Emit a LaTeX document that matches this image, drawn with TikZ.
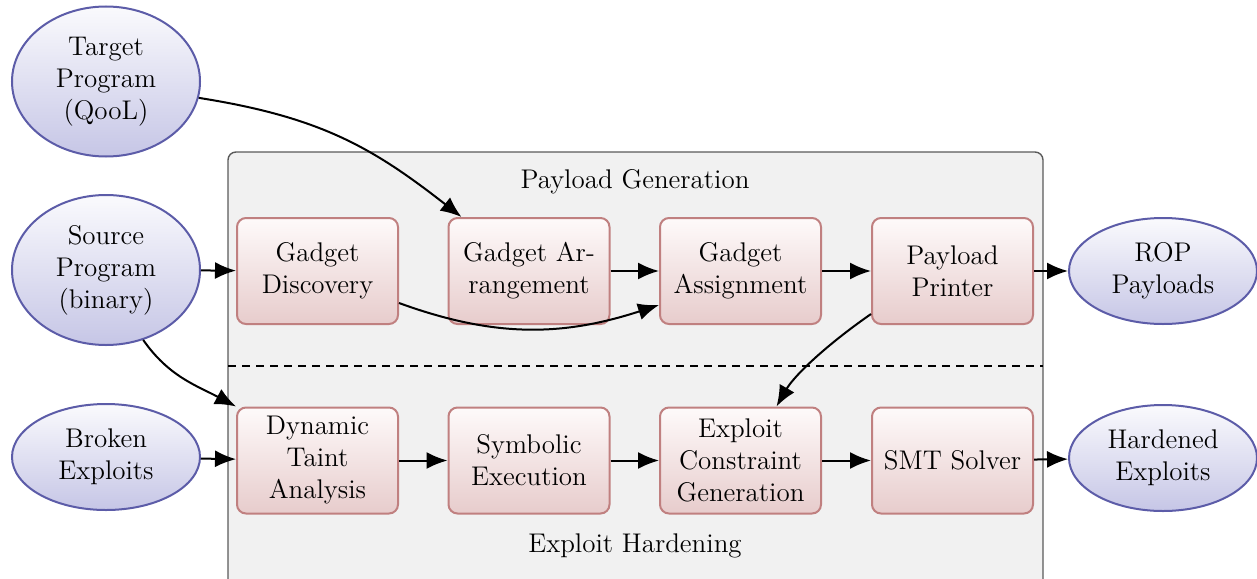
\documentclass[tikz,border=0pt]{standalone}
\usetikzlibrary{shapes.geometric,arrows.meta}

\definecolor{stageedge}{RGB}{192,128,128}
\definecolor{stagetop}{RGB}{254,250,250}
\definecolor{stagebot}{RGB}{231,204,204}
\definecolor{ioedge}{RGB}{92,92,168}
\definecolor{iotop}{RGB}{250,250,253}
\definecolor{iobot}{RGB}{198,198,230}
\definecolor{panelfill}{RGB}{241,241,241}
\definecolor{paneledge}{RGB}{90,90,90}

\tikzset{
  stagebox/.style={rectangle, rounded corners=4.5pt, draw=stageedge, line width=1pt,
    top color=stagetop, bottom color=stagebot, minimum width=80.5pt,
    minimum height=53pt, align=center, inner sep=2pt,
    font=\fontsize{13.5}{16}\selectfont},
  ionode/.style={ellipse, draw=ioedge, line width=1pt, top color=iotop,
    bottom color=iobot, minimum width=94pt, inner sep=0pt, align=center,
    font=\fontsize{13.5}{16}\selectfont},
  flow/.style={-{Latex[length=10.5pt,width=8.5pt]}, line width=1pt, black},
  paneltitle/.style={font=\fontsize{13.5}{16}\selectfont}
}

\begin{document}
\begin{tikzpicture}[x=0.5pt,y=-0.5pt]
\useasboundingbox (0,0) rectangle (1257,578);

% shared panel for both phases
\draw[rounded corners=4pt, fill=panelfill, draw=paneledge, line width=0.7pt]
  (228,152) rectangle (1043,600);
\draw[line width=0.8pt, dash pattern=on 4pt off 3pt] (228,366) -- (1043,366);
\node[paneltitle] (pgtitle) at (635,182) {Payload Generation};
\node[paneltitle] (ehtitle) at (635,546) {Exploit Hardening};

% inputs and outputs
\node[ionode, minimum height=75pt] (tp) at (106,81.5) {Target\\Program\\(QooL)};
\node[ionode, minimum height=75pt] (sp) at (106,270) {Source\\Program\\(binary)};
\node[ionode, minimum height=53pt] (be) at (106,457) {Broken\\Exploits};
\node[ionode, minimum height=53pt] (rop) at (1163,271) {ROP\\Payloads};
\node[ionode, minimum height=53pt] (he) at (1163,458) {Hardened\\Exploits};

% payload generation stages
\node[stagebox] (gd) at (317.5,271) {Gadget\\Discovery};
\node[stagebox] (gar) at (529,271) {Gadget Ar-\\rangement};
\node[stagebox] (gas) at (740.5,271) {Gadget\\Assignment};
\node[stagebox] (pp) at (952.5,271) {Payload\\Printer};

% exploit hardening stages
\node[stagebox] (dt) at (317.5,460.5) {Dynamic\\Taint\\Analysis};
\node[stagebox] (se) at (529,460.5) {Symbolic\\Execution};
\node[stagebox] (ec) at (740.5,460.5) {Exploit\\Constraint\\Generation};
\node[stagebox] (smt) at (952.5,460.5) {SMT Solver};

% connectors
\draw[flow] (tp.-10) .. controls (320,117) and (372,147) .. ([xshift=7pt]gar.north west);
\draw[flow] (sp) -- (gd);
\draw[flow] ([yshift=-16pt]gd.east) to[out=-20,in=198] ([yshift=-17pt]gas.west);
\draw[flow] (gar) -- (gas);
\draw[flow] (gas) -- (pp);
\draw[flow] (pp) -- (rop);
\draw[flow] ([yshift=5.5pt]pp.south west) .. controls (825,346) and (794,376) .. ([xshift=18pt]ec.north);
\draw[flow] (sp.-62) to[out=-55,in=152] (dt.north west);
\draw[flow] (be) -- (dt);
\draw[flow] (dt) -- (se);
\draw[flow] (se) -- (ec);
\draw[flow] (ec) -- (smt);
\draw[flow] (smt) -- (he);
\end{tikzpicture}
\end{document}
